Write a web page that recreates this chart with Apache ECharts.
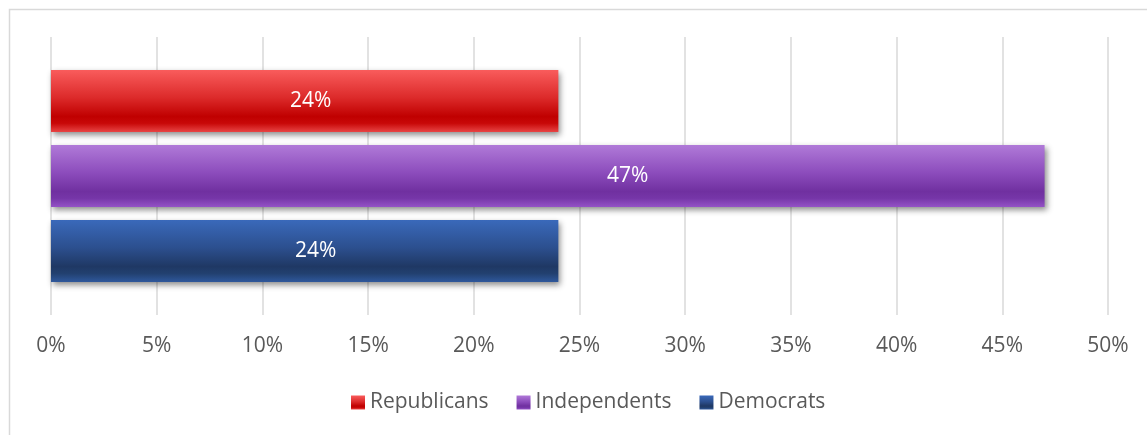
<!DOCTYPE html>
<html>
<head>
<meta charset="utf-8">
<script src="https://cdn.jsdelivr.net/npm/echarts@6/dist/echarts.min.js"></script>
<style>
html,body{margin:0;padding:0;background:#fff;}
#main{width:1147px;height:435px;}
</style>
</head>
<body>
<div id="main"></div>
<script>
const categories = ['Party'];
const seriesNames = ['Republicans', 'Independents', 'Democrats'];
const republicans = [24];
const independents = [47];
const democrats = [24];
const xTicks = [0, 5, 10, 15, 20, 25, 30, 35, 40, 45, 50];

const font = "'Open Sans', sans-serif";
function grad(stops) {
  return new echarts.graphic.LinearGradient(0, 0, 0, 1,
    stops.map(s => ({offset: s[0], color: s[1]})));
}
const colors = {
  Republicans: grad([[0,'#f95c5c'],[0.45,'#dc2a2a'],[0.75,'#c00000'],[0.86,'#c80808'],[1,'#e84444']]),
  Independents: grad([[0,'#b07ad8'],[0.45,'#8c4cbc'],[0.75,'#7030a0'],[0.86,'#7636a8'],[1,'#9452c6']]),
  Democrats: grad([[0,'#3a69ba'],[0.45,'#2c4f8e'],[0.75,'#1f3864'],[0.86,'#22406f'],[1,'#2f589c']])
};
const labelShift = {Republicans: [6, 0], Independents: [80, 0], Democrats: [11, 0]};
const values = {Republicans: republicans, Independents: independents, Democrats: democrats};

const chart = echarts.init(document.getElementById('main'), null, {renderer: 'canvas'});
chart.setOption({
  animation: false,
  backgroundColor: '#ffffff',
  graphic: [{
    type: 'rect', left: 7, top: 7, z: -10,
    shape: {width: 1160, height: 450},
    style: {fill: 'none', stroke: '#d9d9d9', lineWidth: 1.5}
  }],
  grid: {left: 51, right: 39, top: 37, bottom: 120, containLabel: false},
  xAxis: {
    type: 'value', min: xTicks[0], max: xTicks[xTicks.length - 1], interval: 5,
    axisLine: {show: false}, axisTick: {show: false},
    splitLine: {show: true, lineStyle: {color: '#d9d9d9', width: 1.5}},
    axisLabel: {formatter: v => v + '%', color: '#595959', fontSize: 21, fontFamily: font, margin: 21}
  },
  yAxis: {
    type: 'category', data: categories, inverse: true,
    axisLine: {show: false}, axisTick: {show: false}, axisLabel: {show: false}
  },
  legend: {
    data: seriesNames.map(n => ({name: n, icon: 'rect'})), bottom: 17, left: 346,
    itemWidth: 14, itemHeight: 14, itemGap: 28,
    textStyle: {color: '#595959', fontSize: 21, fontFamily: font}
  },
  series: seriesNames.map(name => ({
    name: name, type: 'bar', data: values[name],
    barGap: '21%', barCategoryGap: '23.7%',
    itemStyle: {
      color: colors[name],
      shadowColor: 'rgba(0,0,0,0.45)', shadowBlur: 6, shadowOffsetX: 2, shadowOffsetY: 3
    },
    label: {
      show: true, position: 'inside', formatter: p => p.value + '%', offset: labelShift[name],
      color: '#ffffff', fontSize: 21, fontFamily: font
    }
  }))
});
</script>
</body>
</html>
